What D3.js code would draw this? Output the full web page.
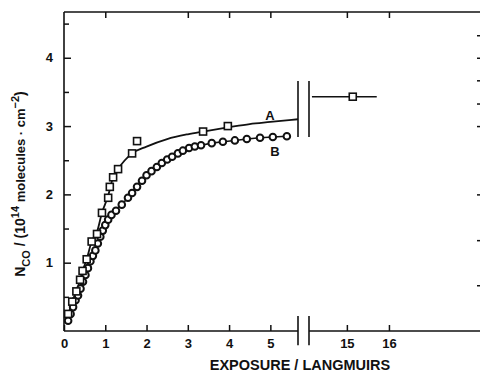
<!DOCTYPE html>
<meta charset="utf-8">
<head>
  <title>CO uptake vs exposure</title>
</head>

<style>
  body { margin: 0; background: #fff; }
  text { font-family: "Liberation Sans", Arial, sans-serif; font-weight: bold; fill: #111; }
</style>

<body>
  <div id="my_dataviz"></div>

  <script src="https://d3js.org/d3.v7.min.js"></script>
  <script>

  // squares (curve A), exposure in L, N_CO in 1e14 cm^-2
  var squaresA = [
    [0.10, 0.25], [0.20, 0.43], [0.30, 0.58], [0.39, 0.75], [0.45, 0.88],
    [0.55, 1.05], [0.67, 1.31], [0.80, 1.42], [0.92, 1.73], [1.07, 1.95],
    [1.11, 2.11], [1.19, 2.25], [1.31, 2.37], [1.65, 2.60], [1.77, 2.78],
    [3.37, 2.92], [3.97, 3.00]
  ]
  // smooth line drawn for A
  var lineA = [
    [0.08, 0.18], [0.20, 0.43], [0.30, 0.58], [0.39, 0.75], [0.45, 0.88],
    [0.55, 1.05], [0.67, 1.31], [0.80, 1.45], [0.92, 1.73], [1.07, 1.98],
    [1.19, 2.25], [1.31, 2.37], [1.65, 2.60], [2.0, 2.70], [2.5, 2.81],
    [3.0, 2.88], [3.37, 2.92], [3.97, 2.98], [4.5, 3.03], [5.0, 3.06], [5.67, 3.10]
  ]
  // circles (curve B)
  var circlesB = [
    [0.10, 0.15], [0.16, 0.25], [0.22, 0.35], [0.28, 0.45], [0.34, 0.52],
    [0.40, 0.62], [0.46, 0.72], [0.52, 0.82], [0.58, 0.92], [0.64, 1.02],
    [0.70, 1.10], [0.76, 1.18], [0.82, 1.28], [0.88, 1.38], [0.94, 1.47],
    [1.00, 1.55], [1.07, 1.63], [1.15, 1.70], [1.26, 1.76], [1.40, 1.85],
    [1.55, 1.95], [1.65, 2.02], [1.77, 2.11], [1.89, 2.20], [2.00, 2.28],
    [2.12, 2.34], [2.25, 2.40], [2.37, 2.46], [2.50, 2.51], [2.62, 2.55],
    [2.76, 2.60], [2.88, 2.64], [3.03, 2.68], [3.17, 2.70], [3.32, 2.72],
    [3.58, 2.75], [3.85, 2.77], [4.14, 2.79], [4.43, 2.81], [4.75, 2.83],
    [5.06, 2.84], [5.40, 2.85]
  ]
  // point after the axis break, with its exposure range
  var squaresRight = [[15.14, 3.43]]
  var rangeRight = [14.17, 15.71]

  var xTicksLeft = [0, 1, 2, 3, 4, 5]
  var xTicksRight = [15, 16]
  var topTicksLeft = [1, 3, 4, 5]
  var yTicks = [1, 2, 3, 4]
  var yMinor = [0.5, 1.5, 2.5, 3.5, 4.5]
  var rightEdgeTicks = [0.67, 1.33, 2.0, 3.0, 3.33, 3.67, 4.0, 4.33]

  var width = 480, height = 378

  var svg = d3.select("#my_dataviz")
    .append("svg")
      .attr("width", width)
      .attr("height", height)

  // two x scales for the broken axis
  var xL = d3.scaleLinear().domain([0, 5.67]).range([64, 298])
  var xR = d3.scaleLinear().domain([14.1, 17.95]).range([309, 471])
  var y = d3.scaleLinear().domain([0, 4.67]).range([331, 12])

  var ink = "#111"

  // frame lines
  svg.append("line").attr("x1", 64).attr("x2", 480).attr("y1", y(4.67)).attr("y2", y(4.67))
    .attr("stroke", ink).attr("stroke-width", 1.6)
  svg.append("line").attr("x1", xL(0)).attr("x2", xL(0)).attr("y1", y(4.67)).attr("y2", y(0))
    .attr("stroke", ink).attr("stroke-width", 1.6)
  svg.append("line").attr("x1", xL(0)).attr("x2", xL(5.67)).attr("y1", y(0)).attr("y2", y(0))
    .attr("stroke", ink).attr("stroke-width", 1.6)
  svg.append("line").attr("x1", xR(14.1)).attr("x2", 480).attr("y1", y(0)).attr("y2", y(0))
    .attr("stroke", ink).attr("stroke-width", 1.6)

  // bottom axes
  var axL = svg.append("g").attr("transform", "translate(0," + y(0) + ")")
    .call(d3.axisBottom(xL).tickValues(xTicksLeft).tickSize(-6).tickPadding(8).tickFormat(d3.format("d")))
  var axR = svg.append("g").attr("transform", "translate(0," + y(0) + ")")
    .call(d3.axisBottom(xR).tickValues(xTicksRight).tickSize(-6).tickPadding(8).tickFormat(d3.format("d")))
  // top ticks
  var axTL = svg.append("g").attr("transform", "translate(0," + y(4.67) + ")")
    .call(d3.axisTop(xL).tickValues(topTicksLeft).tickSize(-6).tickFormat(""))
  var axTR = svg.append("g").attr("transform", "translate(0," + y(4.67) + ")")
    .call(d3.axisTop(xR).tickValues(xTicksRight).tickSize(-6).tickFormat(""))
  // left axis
  var axY = svg.append("g").attr("transform", "translate(" + xL(0) + ",0)")
    .call(d3.axisLeft(y).tickValues(yTicks).tickSize(-7).tickPadding(11).tickFormat(d3.format("d")))
  var axYm = svg.append("g").attr("transform", "translate(" + xL(0) + ",0)")
    .call(d3.axisLeft(y).tickValues(yMinor).tickSize(-5).tickFormat(""))
  // small ticks on the right edge
  var axRt = svg.append("g").attr("transform", "translate(480,0)")
    .call(d3.axisRight(y).tickValues(rightEdgeTicks).tickSize(-3).tickFormat(""))

  ;[axL, axR, axTL, axTR, axY, axYm, axRt].forEach(function(g) {
    g.select(".domain").remove()
    g.selectAll(".tick line").attr("stroke", ink).attr("stroke-width", 1.5)
    g.selectAll("text").attr("font-size", 13).attr("font-family", "Liberation Sans, Arial, sans-serif")
      .attr("font-weight", "bold").attr("fill", ink)
  })

  // break marks
  function breakBars(y0, y1) {
    svg.append("line").attr("x1", xL(5.67)).attr("x2", xL(5.67)).attr("y1", y(y0)).attr("y2", y(y1))
      .attr("stroke", ink).attr("stroke-width", 1.6)
    svg.append("line").attr("x1", xR(14.1)).attr("x2", xR(14.1)).attr("y1", y(y0)).attr("y2", y(y1))
      .attr("stroke", ink).attr("stroke-width", 1.6)
  }
  breakBars(3.66, 2.84)
  breakBars(0.22, -0.21)

  // curve A
  svg.append("path")
    .datum(lineA)
    .attr("fill", "none").attr("stroke", ink).attr("stroke-width", 1.8)
    .attr("d", d3.line().x(function(d) { return xL(d[0]) }).y(function(d) { return y(d[1]) })
      .curve(d3.curveMonotoneX))

  // curve B (points joined)
  svg.append("path")
    .datum(circlesB)
    .attr("fill", "none").attr("stroke", ink).attr("stroke-width", 1.6)
    .attr("d", d3.line().x(function(d) { return xL(d[0]) }).y(function(d) { return y(d[1]) }))

  svg.append("g").selectAll("circle")
    .data(circlesB)
    .enter().append("circle")
      .attr("cx", function(d) { return xL(d[0]) })
      .attr("cy", function(d) { return y(d[1]) })
      .attr("r", 3.3)
      .attr("fill", "#fff").attr("stroke", ink).attr("stroke-width", 2)

  svg.append("g").selectAll("rect")
    .data(squaresA)
    .enter().append("rect")
      .attr("x", function(d) { return xL(d[0]) - 3.5 })
      .attr("y", function(d) { return y(d[1]) - 3.5 })
      .attr("width", 7).attr("height", 7)
      .attr("fill", "#fff").attr("stroke", ink).attr("stroke-width", 1.6)

  // right-hand point with range bar
  svg.append("line")
    .attr("x1", xR(rangeRight[0])).attr("x2", xR(rangeRight[1]))
    .attr("y1", y(squaresRight[0][1])).attr("y2", y(squaresRight[0][1]))
    .attr("stroke", ink).attr("stroke-width", 1.6)
  svg.append("g").selectAll("rect")
    .data(squaresRight)
    .enter().append("rect")
      .attr("x", function(d) { return xR(d[0]) - 3.5 })
      .attr("y", function(d) { return y(d[1]) - 3.5 })
      .attr("width", 7).attr("height", 7)
      .attr("fill", "#fff").attr("stroke", ink).attr("stroke-width", 1.6)

  // curve labels
  svg.append("text").attr("x", xL(4.99)).attr("y", y(3.15)).attr("dy", "0.35em")
    .attr("text-anchor", "middle").attr("font-size", 13).text("A")
  svg.append("text").attr("x", xL(5.11)).attr("y", y(2.63)).attr("dy", "0.35em")
    .attr("text-anchor", "middle").attr("font-size", 13).text("B")

  // axis titles
  svg.append("text").attr("x", 300).attr("y", 370)
    .attr("text-anchor", "middle").attr("font-size", 14.5).text("EXPOSURE / LANGMUIRS")

  var yt = svg.append("text")
    .attr("transform", "translate(25,184) rotate(-90)")
    .attr("text-anchor", "middle").attr("font-size", 14)
  yt.append("tspan").text("N")
  yt.append("tspan").attr("font-size", 11).attr("dy", 5).text("CO")
  yt.append("tspan").attr("dy", -5).text(" / (10")
  yt.append("tspan").attr("font-size", 11).attr("dy", -6).text("14")
  yt.append("tspan").attr("dy", 6).attr("font-size", 13).text(" molecules \u00b7 cm")
  yt.append("tspan").attr("font-size", 11).attr("dy", -6).text("\u22122")
  yt.append("tspan").attr("dy", 6).text(")")

  </script>
</body>
</html>
